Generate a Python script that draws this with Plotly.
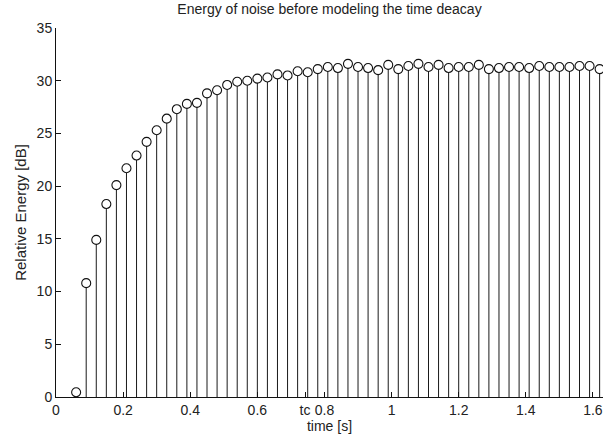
import plotly.graph_objects as go

times = [0.06, 0.09, 0.12, 0.15, 0.18, 0.21, 0.24, 0.27, 0.30, 0.33,
         0.36, 0.39, 0.42, 0.45, 0.48, 0.51, 0.54, 0.57, 0.60, 0.63,
         0.66, 0.69, 0.72, 0.75, 0.78, 0.81, 0.84, 0.87, 0.90, 0.93,
         0.96, 0.99, 1.02, 1.05, 1.08, 1.11, 1.14, 1.17, 1.20, 1.23,
         1.26, 1.29, 1.32, 1.35, 1.38, 1.41, 1.44, 1.47, 1.50, 1.53,
         1.56, 1.59, 1.62]
energy_db = [0.45, 10.8, 14.9, 18.3, 20.1, 21.7, 22.9, 24.2, 25.3, 26.4,
             27.3, 27.8, 27.9, 28.8, 29.1, 29.6, 29.9, 30.0, 30.2, 30.3,
             30.6, 30.5, 30.9, 30.8, 31.1, 31.3, 31.2, 31.6, 31.3, 31.2,
             31.0, 31.5, 31.1, 31.4, 31.6, 31.3, 31.5, 31.2, 31.3, 31.3,
             31.5, 31.1, 31.2, 31.3, 31.3, 31.2, 31.4, 31.3, 31.3, 31.3,
             31.4, 31.4, 31.1]

x_tickvals = [0, 0.2, 0.4, 0.6, 0.742, 0.8, 1.0, 1.2, 1.4, 1.6]
x_ticktext = ["0", "0.2", "0.4", "0.6", "tc", "0.8", "1", "1.2", "1.4", "1.6"]
y_tickvals = [0, 5, 10, 15, 20, 25, 30, 35]

stem_x, stem_y = [], []
for t, e in zip(times, energy_db):
    stem_x += [t, t, None]
    stem_y += [0, e, None]

fig = go.Figure()
fig.add_trace(go.Scatter(x=stem_x, y=stem_y, mode="lines",
                         line=dict(color="#1a1a1a", width=1),
                         hoverinfo="skip", showlegend=False))
fig.add_trace(go.Scatter(x=times, y=energy_db, mode="markers",
                         marker=dict(symbol="circle", size=9, color="white",
                                     line=dict(color="#111111", width=1.1)),
                         showlegend=False))

FAM = "Liberation Sans, Arial, sans-serif"
txt = "#222222"
fig.update_layout(
    width=610, height=438,
    margin=dict(l=56, r=7, t=28, b=41),
    paper_bgcolor="white", plot_bgcolor="white",
    font=dict(family=FAM, size=14, color=txt),
    title=dict(text="Energy of noise before modeling the time deacay",
               x=(56 + 0.5 * (610 - 56 - 7)) / 610, xanchor="center",
               y=0.99, yanchor="top", yref="container",
               font=dict(family=FAM, size=14, color=txt)),
    xaxis=dict(range=[0, 1.63], tickvals=x_tickvals, ticktext=x_ticktext,
               showgrid=False, zeroline=False, showline=True, linecolor="#111111",
               linewidth=1, ticks="inside", ticklen=5, tickcolor="#111111",
               tickfont=dict(family=FAM, size=14, color=txt),
               title=dict(text="time [s]", standoff=3,
                          font=dict(family=FAM, size=14, color=txt))),
    yaxis=dict(range=[0, 35], tickvals=y_tickvals,
               showgrid=False, zeroline=False, showline=True, linecolor="#111111",
               linewidth=1, ticks="inside", ticklen=5, tickcolor="#111111",
               tickfont=dict(family=FAM, size=14, color=txt),
               title=dict(text="Relative Energy [dB]", standoff=6,
                          font=dict(family=FAM, size=15, color=txt))),
)

fig.write_html("out.html")
